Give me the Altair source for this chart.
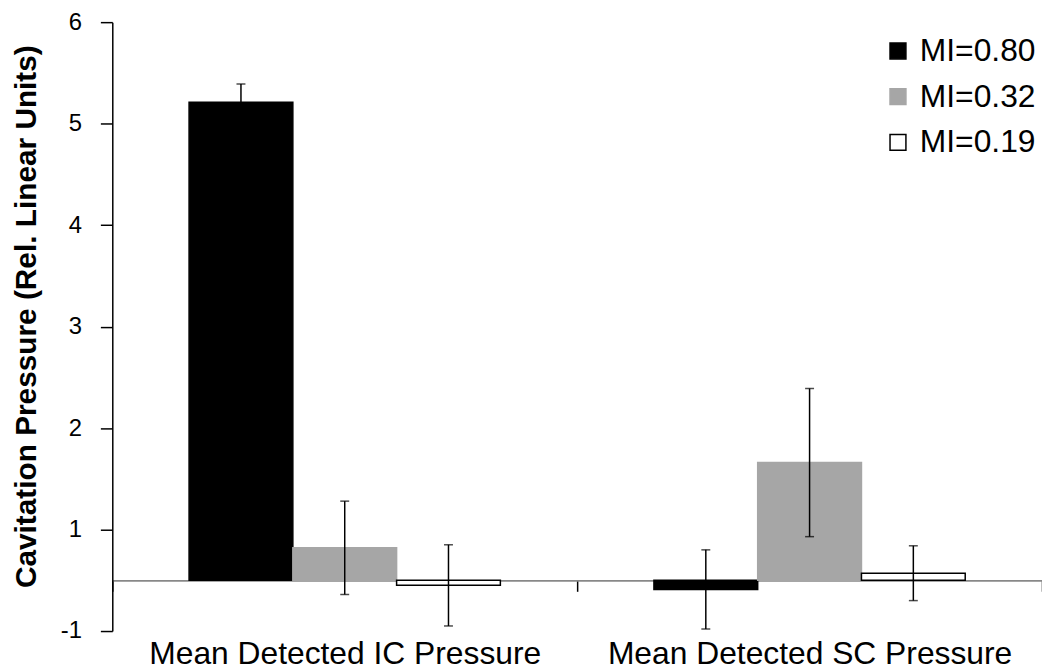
import altair as alt
import pandas as pd

groups = ["Mean Detected IC Pressure", "Mean Detected SC Pressure"]
series = ["MI=0.80", "MI=0.32", "MI=0.19"]
fills = ["#000000", "#a6a6a6", "#ffffff"]
strokes = ["#000000", "#a6a6a6", "#000000"]

# values read against the printed axis (the "-1" label sits at 0, zero line at 0.5)
ic_values = [5.21, 0.82, 0.45]
sc_values = [0.41, 1.66, 0.57]
ic_err = [0.18, 0.46, 0.40]
sc_err = [0.39, 0.73, 0.27]
baseline = 0.5
y_ticks = [0, 1, 2, 3, 4, 5, 6]

rows = []
for g, vals, errs in [(groups[0], ic_values, ic_err), (groups[1], sc_values, sc_err)]:
    for s, v, e in zip(series, vals, errs):
        rows.append({"group": g, "series": s, "value": v, "base": baseline,
                     "lo": v - e, "hi": v + e})
df = pd.DataFrame(rows)

FONT = "Liberation Sans"

x_enc = alt.X("group:N", sort=groups,
              scale=alt.Scale(paddingInner=0, paddingOuter=0),
              axis=alt.Axis(title=None, orient="bottom", offset=-51,
                            domainColor="#888888", domainWidth=2,
                            tickBand="extent", tickColor="#000000", tickWidth=1.5,
                            tickSize=11, labelFontSize=32, labelFont=FONT,
                            labelColor="#000000", labelPadding=48, labelLimit=600,
                            labelAngle=0))
xo_enc = alt.XOffset("series:N", sort=series,
                     scale=alt.Scale(paddingInner=0, paddingOuter=0.74))
y_scale = alt.Scale(domain=[0, 6], nice=False, zero=False)
y_axis = alt.Axis(title="Cavitation Pressure (Rel. Linear Units)", values=y_ticks,
                  labelExpr="datum.value == 0 ? '-1' : format(datum.value, 'd')",
                  grid=False, domainColor="#000000", domainWidth=1.5,
                  tickColor="#000000", tickWidth=1.5, tickSize=12,
                  labelFontSize=24, labelFont=FONT, labelColor="#000000",
                  labelPadding=19,
                  titleFontSize=30, titleFont=FONT, titleFontWeight="bold",
                  titleColor="#000000", titleAngle=270, titleX=-101, titleY=296,
                  titleAlign="center", titleBaseline="top")

base = alt.Chart(df)

bars = base.mark_bar(strokeWidth=1.5).encode(
    x=x_enc,
    xOffset=xo_enc,
    y=alt.Y("value:Q", scale=y_scale, axis=y_axis),
    y2="base:Q",
    fill=alt.Fill("series:N", sort=series,
                  scale=alt.Scale(domain=series, range=fills),
                  legend=alt.Legend(title=None)),
    stroke=alt.Stroke("series:N", sort=series,
                      scale=alt.Scale(domain=series, range=strokes),
                      legend=alt.Legend(title=None)),
)

err = base.mark_rule(color="#000000", strokeWidth=1.5).encode(
    x=alt.X("group:N", sort=groups),
    xOffset=alt.XOffset("series:N", sort=series),
    y=alt.Y("lo:Q"),
    y2="hi:Q",
)

cap_hi = base.mark_tick(color="#000000", size=9, thickness=1.5).encode(
    x=alt.X("group:N", sort=groups),
    xOffset=alt.XOffset("series:N", sort=series),
    y=alt.Y("hi:Q"),
)
cap_lo = base.mark_tick(color="#000000", size=9, thickness=1.5).encode(
    x=alt.X("group:N", sort=groups),
    xOffset=alt.XOffset("series:N", sort=series),
    y=alt.Y("lo:Q"),
)

chart = alt.layer(bars, err, cap_hi, cap_lo).properties(
    width=936, height=613,
    autosize=alt.AutoSizeParams(type="none"),
    padding={"left": 105, "top": 12, "right": 0, "bottom": 40},
    background="#ffffff",
).configure_view(strokeWidth=0).configure_legend(
    orient="none", legendX=775, legendY=13, padding=0,
    symbolType="square", symbolSize=256, symbolStrokeWidth=1.5,
    labelFontSize=32, labelFont=FONT, labelColor="#000000",
    labelOffset=6, rowPadding=14, labelLimit=300,
)

chart.save("out.html", embed_options={"renderer": "svg", "actions": False})
